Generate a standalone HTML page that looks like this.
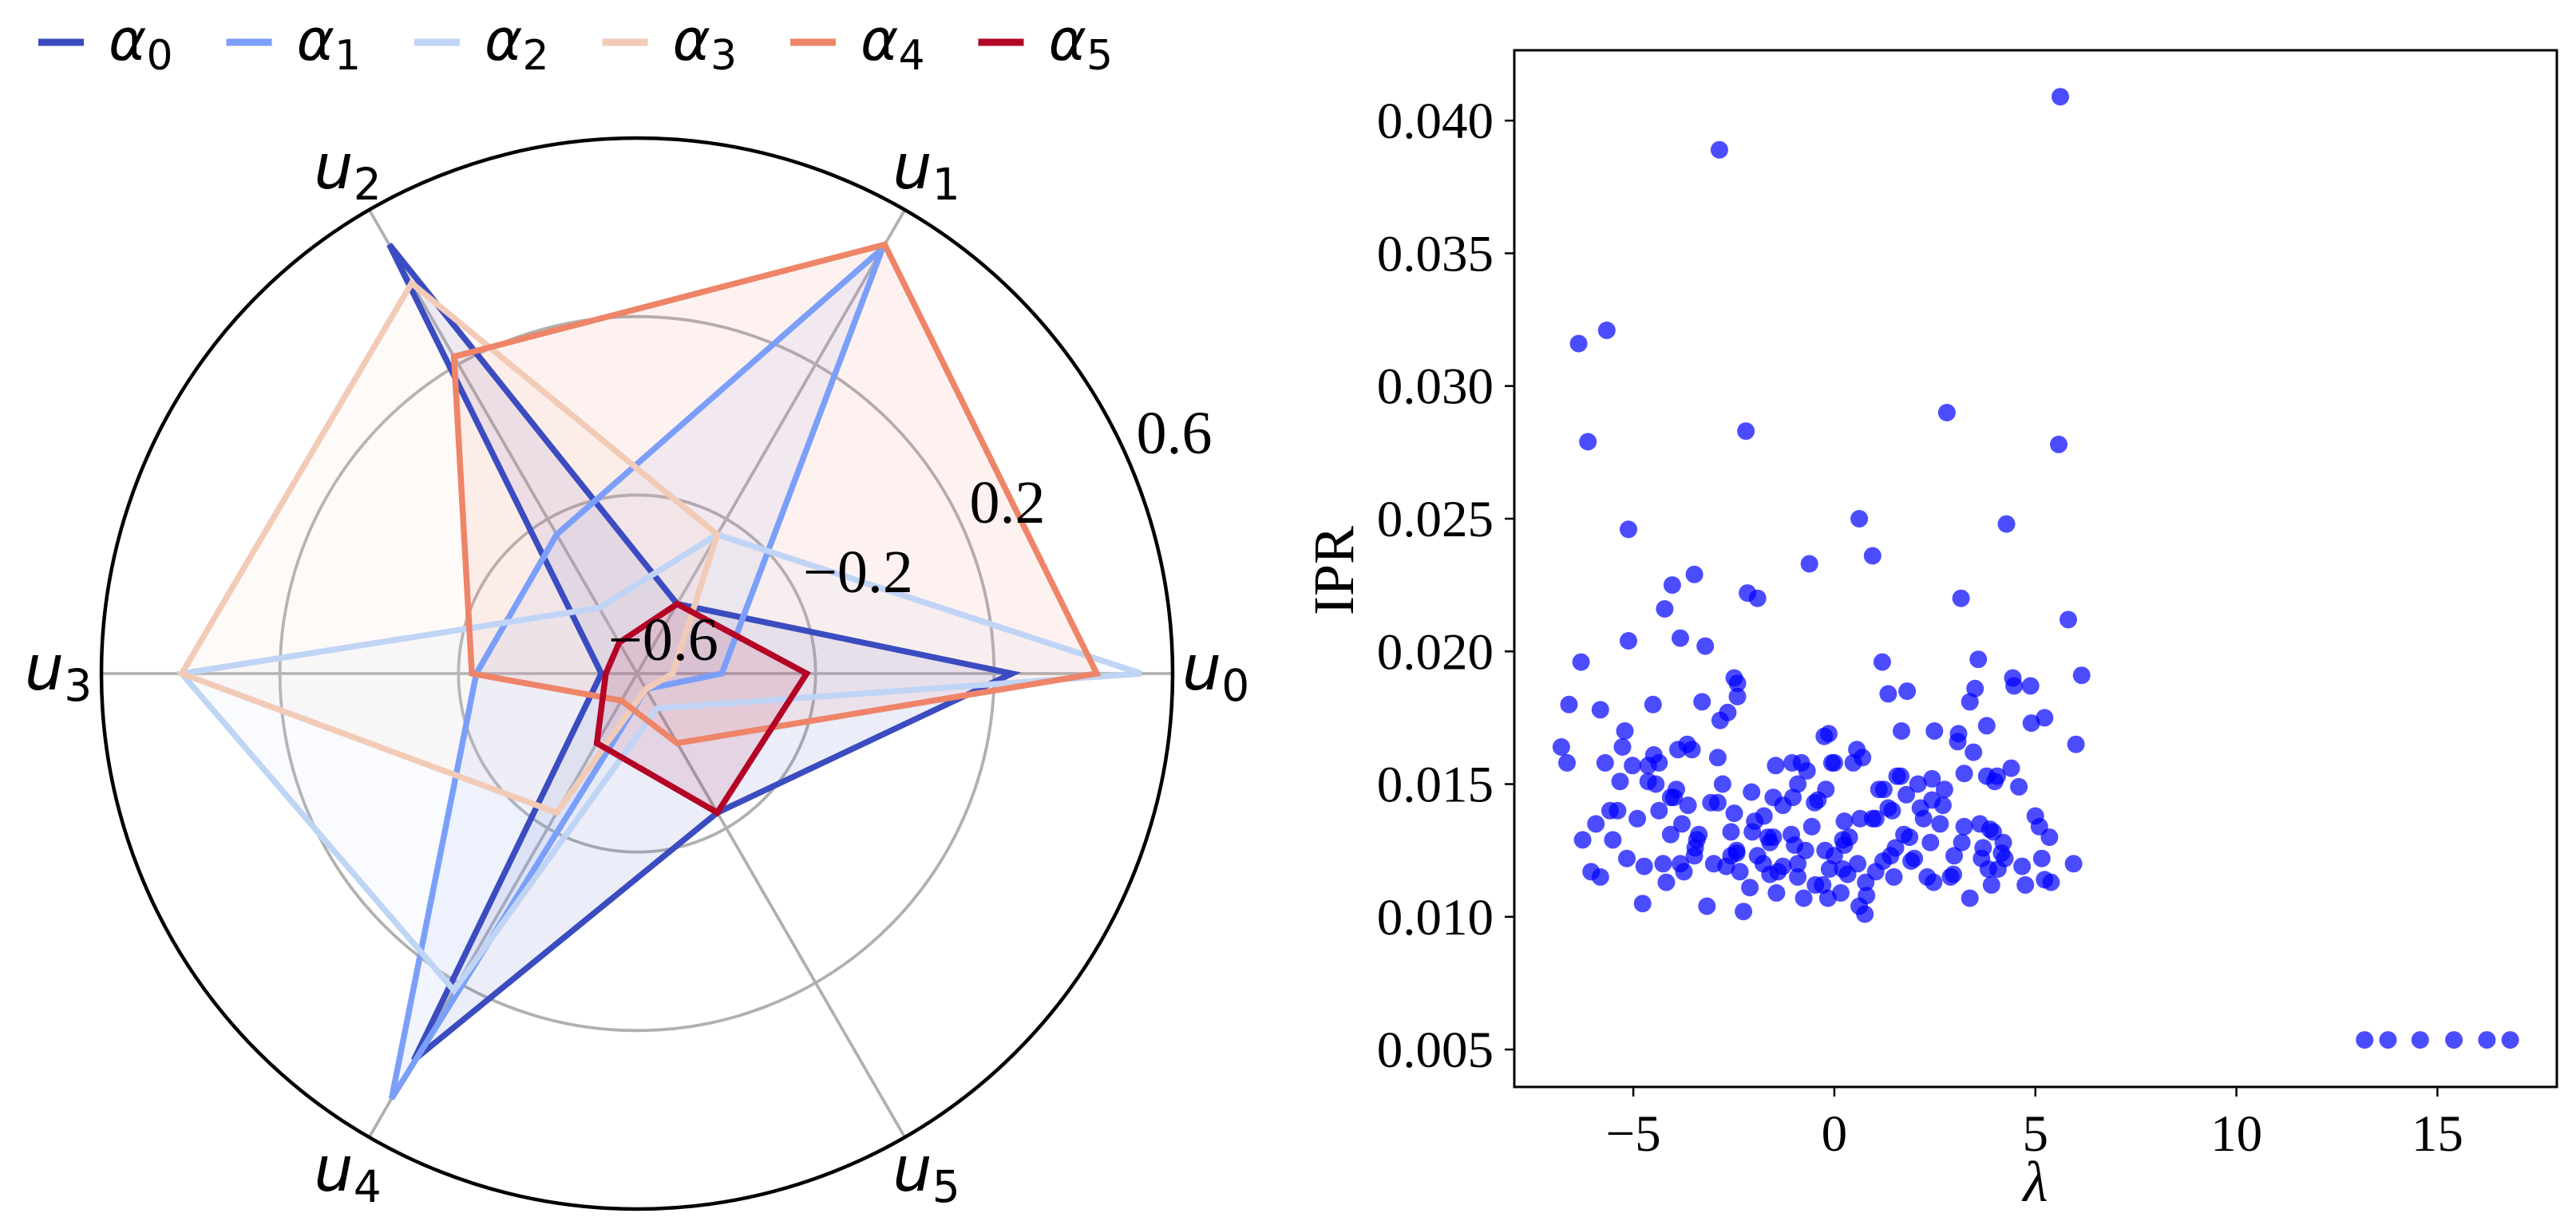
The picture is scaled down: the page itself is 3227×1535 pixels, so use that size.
<!DOCTYPE html>
<html><head><meta charset="utf-8"><style>
html,body{margin:0;padding:0;background:#fff;overflow:hidden;}
svg{display:block;}
.tn{font-family:"Liberation Serif",serif;}
.dj{font-family:"DejaVu Sans",sans-serif;font-style:italic;}
</style></head><body>
<svg id="fig" width="3227" height="1535" viewBox="0 0 3227 1535" xmlns="http://www.w3.org/2000/svg">
<g id="radar"></g>
<g id="legend"></g>
<g id="scatter"></g>
</svg>
<script>
// ---- Radar data ----
const axesLabels = ["0","1","2","3","4","5"];
const seriesNames = ["0","1","2","3","4","5"];
const seriesColors = ["#3b4cc0","#7b9ff9","#c0d4f5","#f2cbb7","#ee8468","#b40426"];
const alpha0 = [0.24,-0.42,0.51,-0.52,0.40,-0.24];
const alpha1 = [-0.41,0.50,-0.24,-0.24,0.50,-0.56];
const alpha2 = [0.53,-0.24,-0.43,0.42,0.22,-0.51];
const alpha3 = [-0.52,-0.24,0.41,0.42,-0.24,-0.56];
const alpha4 = [0.43,0.51,0.22,-0.23,-0.53,-0.42];
const alpha5 = [-0.22,-0.42,-0.52,-0.53,-0.42,-0.24];
const radialTicks = [-0.6,-0.2,0.2,0.6];
const radialTickLabels = ["\u22120.6","\u22120.2","0.2","0.6"];

// ---- Scatter data ----
const lambdaVals = [5.62,-2.86,-5.66,-6.36,-6.13,-2.20,2.80,5.58,-5.12,0.62,4.28,-0.62,0.95,-3.48,-4.03,-2.16,-1.91,3.15,-4.22,5.82,-3.83,-5.12,-3.21,-6.30,1.19,3.58,6.15,-2.49,4.44,-2.41,4.47,4.88,-6.60,-4.51,-3.29,-2.41,1.34,1.81,3.50,3.37,-5.82,-2.65,-2.84,4.90,5.23,3.79,-5.21,1.67,2.49,3.09,-0.25,-0.14,3.07,6.01,-6.79,-5.27,-3.66,-3.89,-3.54,0.56,-4.49,3.46,-2.90,0.70,-6.65,-5.70,-4.36,0.0,0.47,-5.02,-1.46,-1.05,-0.82,-0.68,-0.06,4.40,-4.63,3.79,1.56,1.65,4.05,3.99,3.23,-5.33,-4.63,-4.44,-2.78,2.43,2.08,-0.91,4.59,-3.93,1.11,1.23,-0.21,2.74,-2.06,1.79,-3.99,-1.52,-1.03,-4.07,-0.41,-0.49,2.43,-3.07,-2.90,-1.28,-3.64,2.14,2.70,-5.58,-5.39,-4.36,1.34,1.44,5.0,-2.49,-4.90,-3.79,-5.93,0.25,0.64,0.95,1.03,2.22,2.63,3.62,3.23,-1.98,-1.75,5.10,-0.56,3.87,-2.04,-2.57,3.95,-4.07,-3.37,-1.65,-1.52,0.37,1.73,1.87,-6.26,-5.51,5.35,-1.07,-3.42,0.21,2.39,-1.60,4.20,3.17,-3.46,0.25,-0.99,3.70,1.52,-0.23,-0.72,-2.43,4.16,-5.16,-2.43,-3.48,-2.57,-1.91,1.40,0.0,2.98,3.66,5.16,4.24,1.91,1.99,-4.26,-3.83,-3.0,-1.77,-0.91,0.58,1.21,5.95,-4.73,-2.69,4.67,-1.28,-0.12,0.21,3.83,4.07,-3.74,-2.35,-1.40,1.03,-6.05,-5.82,0.33,-1.60,-0.91,1.48,2.31,2.96,2.89,5.23,5.39,-4.18,2.47,4.75,0.78,3.91,-2.10,-0.47,-0.29,-1.44,0.16,0.80,-0.16,-0.76,3.37,-4.77,-3.17,-2.26,0.62,0.76,13.19,13.77,14.57,15.41,16.23,16.81];
const iprVals = [0.0409,0.0389,0.0321,0.0316,0.0279,0.0283,0.0290,0.0278,0.0246,0.0250,0.0248,0.0233,0.0236,0.0229,0.0225,0.0222,0.0220,0.0220,0.0216,0.0212,0.0205,0.0204,0.0202,0.0196,0.0196,0.0197,0.0191,0.0190,0.0190,0.0188,0.0187,0.0187,0.0180,0.0180,0.0181,0.0183,0.0184,0.0185,0.0186,0.0181,0.0178,0.0177,0.0174,0.0173,0.0175,0.0172,0.0170,0.0170,0.0170,0.0169,0.0168,0.0169,0.0166,0.0165,0.0164,0.0164,0.0165,0.0163,0.0163,0.0163,0.0161,0.0162,0.0160,0.0160,0.0158,0.0158,0.0158,0.0158,0.0158,0.0157,0.0157,0.0158,0.0158,0.0155,0.0158,0.0156,0.0157,0.0153,0.0153,0.0153,0.0153,0.0151,0.0154,0.0151,0.0151,0.0150,0.0150,0.0152,0.0150,0.0150,0.0149,0.0148,0.0148,0.0148,0.0148,0.0148,0.0147,0.0146,0.0145,0.0145,0.0145,0.0145,0.0144,0.0143,0.0144,0.0143,0.0143,0.0142,0.0142,0.0141,0.0142,0.0140,0.0140,0.0140,0.0141,0.0140,0.0138,0.0139,0.0137,0.0135,0.0135,0.0136,0.0137,0.0137,0.0137,0.0137,0.0135,0.0135,0.0134,0.0136,0.0138,0.0134,0.0134,0.0133,0.0132,0.0132,0.0132,0.0131,0.0131,0.0130,0.0130,0.0130,0.0131,0.0130,0.0129,0.0129,0.0130,0.0131,0.0129,0.0129,0.0128,0.0128,0.0128,0.0128,0.0126,0.0127,0.0127,0.0126,0.0126,0.0125,0.0125,0.0125,0.0124,0.0122,0.0124,0.0123,0.0123,0.0123,0.0123,0.0123,0.0123,0.0122,0.0122,0.0122,0.0121,0.0122,0.0120,0.0120,0.0120,0.0120,0.0120,0.0120,0.0121,0.0120,0.0119,0.0119,0.0119,0.0119,0.0118,0.0118,0.0118,0.0118,0.0117,0.0117,0.0117,0.0117,0.0117,0.0115,0.0116,0.0116,0.0115,0.0115,0.0115,0.0116,0.0115,0.0114,0.0113,0.0113,0.0113,0.0112,0.0113,0.0112,0.0111,0.0112,0.0112,0.0109,0.0109,0.0108,0.0107,0.0107,0.0107,0.0105,0.0104,0.0102,0.0104,0.0101,0.00536,0.00536,0.00536,0.00536,0.00536,0.00536];
const xTicks = [-5,0,5,10,15];
const xTickLabels = ["\u22125","0","5","10","15"];
const yTicks = [0.005,0.010,0.015,0.020,0.025,0.030,0.035,0.040];
const yTickLabels = ["0.005","0.010","0.015","0.020","0.025","0.030","0.035","0.040"];

const NS="http://www.w3.org/2000/svg";
function mk(tag, parent, attrs){const e=document.createElementNS(NS,tag);for(const k in attrs)e.setAttribute(k,attrs[k]);parent.appendChild(e);return e;}

// ---- Radar ----
(function(){
const g=document.getElementById('radar');
const cx=798, cy=844, R=671, rmin=-0.6, rmax=0.6;
const rs=v=>(v-rmin)/(rmax-rmin)*R;
const pt=(i,v)=>{const a=i*Math.PI/3;const r=rs(v);return [cx+r*Math.cos(a), cy-r*Math.sin(a)];};
radialTicks.forEach(t=>{ if(rs(t)>2 && t<rmax){
  const c=mk('circle',g,{cx:cx,cy:cy,r:rs(t),fill:'none',stroke:'#b0b0b0','stroke-width':3.8});
  
  
}});
axesLabels.forEach((l,i)=>{
  const p=pt(i,rmax);
  const ln=mk('line',g,{x1:cx,y1:cy,x2:p[0],y2:p[1],stroke:'#b0b0b0','stroke-width':3.8});
  
  
});
const all=[alpha0,alpha1,alpha2,alpha3,alpha4,alpha5];
all.forEach((s,k)=>{
  const pts=s.map((v,i)=>pt(i,v).map(n=>n.toFixed(1)).join(',')).join(' ');
  const f=mk('polygon',g,{points:pts,fill:seriesColors[k],'fill-opacity':0.1,stroke:'none'});
  
  
});
all.forEach((s,k)=>{
  const pts=s.map((v,i)=>pt(i,v).map(n=>n.toFixed(1)).join(',')).join(' ');
  const p=mk('polygon',g,{points:pts,fill:'none',stroke:seriesColors[k],'stroke-width':7.5,'stroke-linejoin':'miter'});
  
  
});
const oc=mk('circle',g,{cx:cx,cy:cy,r:R,fill:'none',stroke:'#000','stroke-width':4.5});


const tlx=[831,1075,1262,1471], tly=[827,742,655,568];
radialTickLabels.forEach((t,i)=>{
  const tx=mk('text',g,{x:tlx[i],y:tly[i],'font-size':76,'text-anchor':'middle',class:'tn'});
  tx.textContent=t;
  
  
});
axesLabels.forEach((l,i)=>{
  const a=i*Math.PI/3, r=R+54;
  const x=cx+r*Math.cos(a), y=cy-r*Math.sin(a);
  const tx=mk('text',g,{x:x,y:y+20,'font-size':78,'text-anchor':'middle',class:'dj'});
  tx.innerHTML='u<tspan font-size="55" dy="14" font-style="normal">'+l+'</tspan>';
  
  
});
})();

// ---- Legend ----
(function(){
const g=document.getElementById('legend');
seriesNames.forEach((n,k)=>{
  const x0=48+k*235.5;
  const it=mk('g',g,{});
  
  
  mk('line',it,{x1:x0,y1:53,x2:x0+57,y2:53,stroke:seriesColors[k],'stroke-width':9});
  const t=mk('text',it,{x:x0+88,y:75,'font-size':72,class:'dj'});
  t.innerHTML='\u03b1<tspan font-size="52" dy="12" font-style="normal">'+n+'</tspan>';
});
})();

// ---- Scatter ----
(function(){
const g=document.getElementById('scatter');
const L=1897,Rt=3203,T=63,B=1362;
const xmin=-7.96,xmax=17.97,ymin=0.00359,ymax=0.04265;
const sx=v=>L+(v-xmin)/(xmax-xmin)*(Rt-L);
const sy=v=>B-(v-ymin)/(ymax-ymin)*(B-T);
lambdaVals.forEach((lv,i)=>{
  const c=mk('circle',g,{cx:sx(lv).toFixed(1),cy:sy(iprVals[i]).toFixed(1),r:11,fill:'#0000ff','fill-opacity':0.7});
  
  
});
const fr=mk('rect',g,{x:L,y:T,width:Rt-L,height:B-T,fill:'none',stroke:'#000','stroke-width':3});


xTicks.forEach((t,i)=>{
  const x=sx(t);
  const tk=mk('line',g,{x1:x,y1:B,x2:x,y2:B+12,stroke:'#000','stroke-width':2.5});
  
  
  const tx=mk('text',g,{x:x,y:B+80,'font-size':65,'text-anchor':'middle',class:'tn'});
  tx.textContent=xTickLabels[i];
  
  
});
yTicks.forEach((t,i)=>{
  const y=sy(t);
  const tk=mk('line',g,{x1:L-12,y1:y,x2:L,y2:y,stroke:'#000','stroke-width':2.5});
  
  
  const tx=mk('text',g,{x:L-26,y:y+22,'font-size':65,'text-anchor':'end',class:'tn'});
  tx.textContent=yTickLabels[i];
  
  
});
const xl=mk('text',g,{x:2550,y:1505,'font-size':72,'text-anchor':'middle',class:'tn','font-style':'italic'});
xl.textContent='\u03bb';


const yl=mk('text',g,{x:0,y:0,'font-size':72,'text-anchor':'middle',class:'tn',transform:'translate(1695,715) rotate(-90)'});
yl.textContent='IPR';


})();
</script>
</body></html>
